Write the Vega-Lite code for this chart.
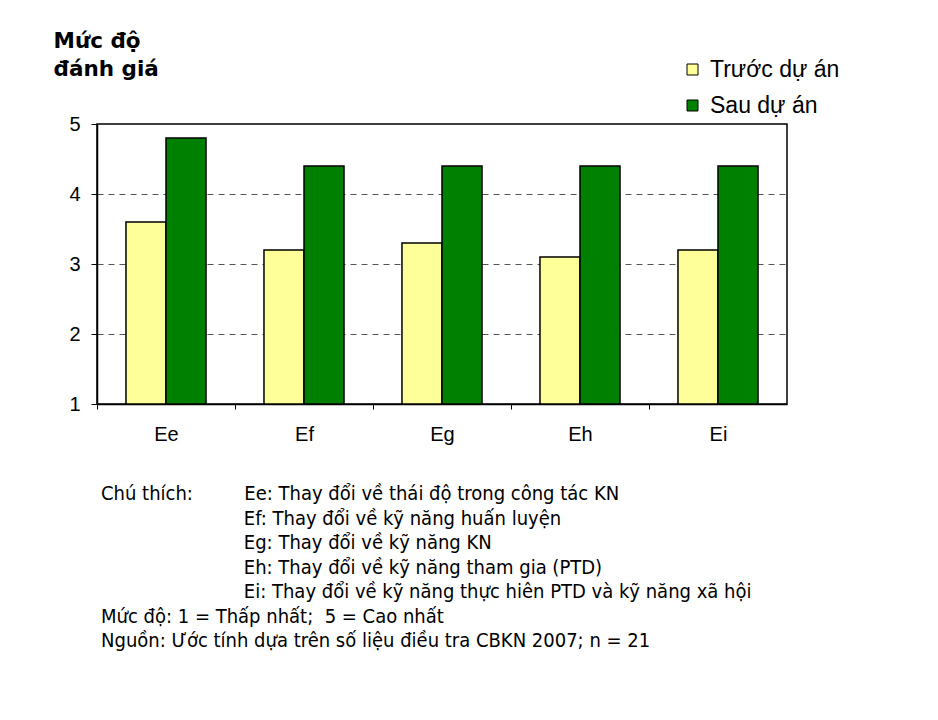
{
  "$schema": "https://vega.github.io/schema/vega-lite/v6.json",
  "width": 690,
  "height": 280,
  "autosize": {"type": "none"},
  "padding": {"left": 97, "top": 124, "right": 151, "bottom": 316},
  "background": "white",
  "data": {
    "values": [
      {"nhom": "Ee", "giai_doan": "Trước dự án", "muc_do": 3.6},
      {"nhom": "Ee", "giai_doan": "Sau dự án", "muc_do": 4.8},
      {"nhom": "Ef", "giai_doan": "Trước dự án", "muc_do": 3.2},
      {"nhom": "Ef", "giai_doan": "Sau dự án", "muc_do": 4.4},
      {"nhom": "Eg", "giai_doan": "Trước dự án", "muc_do": 3.3},
      {"nhom": "Eg", "giai_doan": "Sau dự án", "muc_do": 4.4},
      {"nhom": "Eh", "giai_doan": "Trước dự án", "muc_do": 3.1},
      {"nhom": "Eh", "giai_doan": "Sau dự án", "muc_do": 4.4},
      {"nhom": "Ei", "giai_doan": "Trước dự án", "muc_do": 3.2},
      {"nhom": "Ei", "giai_doan": "Sau dự án", "muc_do": 4.4}
    ]
  },
  "title": {
    "text": [
      "Chú thích:\u00a0\u00a0\u00a0\u00a0\u00a0\u00a0\u00a0\u00a0\u00a0Ee: Thay đổi về thái độ trong công tác KN",
      "\u200b\u00a0\u00a0\u00a0\u00a0\u00a0\u00a0\u00a0\u00a0\u00a0\u00a0\u00a0\u00a0\u00a0\u00a0\u00a0\u00a0\u00a0\u00a0\u00a0\u00a0\u00a0\u00a0\u00a0\u00a0\u00a0Ef: Thay đổi về kỹ năng huấn luyện",
      "\u200b\u00a0\u00a0\u00a0\u00a0\u00a0\u00a0\u00a0\u00a0\u00a0\u00a0\u00a0\u00a0\u00a0\u00a0\u00a0\u00a0\u00a0\u00a0\u00a0\u00a0\u00a0\u00a0\u00a0\u00a0\u00a0Eg: Thay đổi về kỹ năng KN",
      "\u200b\u00a0\u00a0\u00a0\u00a0\u00a0\u00a0\u00a0\u00a0\u00a0\u00a0\u00a0\u00a0\u00a0\u00a0\u00a0\u00a0\u00a0\u00a0\u00a0\u00a0\u00a0\u00a0\u00a0\u00a0\u00a0Eh: Thay đổi về kỹ năng tham gia (PTD)",
      "\u200b\u00a0\u00a0\u00a0\u00a0\u00a0\u00a0\u00a0\u00a0\u00a0\u00a0\u00a0\u00a0\u00a0\u00a0\u00a0\u00a0\u00a0\u00a0\u00a0\u00a0\u00a0\u00a0\u00a0\u00a0\u00a0Ei: Thay đổi về kỹ năng thực hiên PTD và kỹ năng xã hội",
      "Mức độ: 1 = Thấp nhất;\u00a0\u00a05 = Cao nhất",
      "Nguồn: Ước tính dựa trên số liệu điều tra CBKN 2007; n = 21"
    ],
    "orient": "bottom",
    "anchor": "start",
    "frame": "group",
    "offset": 40,
    "dx": 4,
    "font": "DejaVu Sans Condensed, DejaVu Sans",
    "fontSize": 20,
    "fontWeight": "normal",
    "color": "black",
    "lineHeight": 24.5,
    "baseline": "top"
  },
  "mark": {"type": "bar", "stroke": "black", "strokeWidth": 1.5},
  "encoding": {
    "x": {
      "field": "nhom",
      "type": "nominal",
      "sort": ["Ee", "Ef", "Eg", "Eh", "Ei"],
      "scale": {"paddingInner": 0.42, "paddingOuter": 0.21},
      "axis": {
        "title": null,
        "tickOffset": -69,
        "labelOffset": 69,
        "tickSize": 5,
        "tickColor": "black",
        "tickWidth": 1,
        "domainColor": "black",
        "domainWidth": 1.5,
        "labelFont": "Liberation Sans",
        "labelFontSize": 20,
        "labelColor": "black",
        "labelPadding": 15,
        "labelAngle": 0,
        "grid": false
      }
    },
    "xOffset": {
      "field": "giai_doan",
      "type": "nominal",
      "sort": ["Trước dự án", "Sau dự án"],
      "scale": {"paddingInner": 0, "paddingOuter": 0}
    },
    "y": {
      "field": "muc_do",
      "type": "quantitative",
      "scale": {"domain": [1, 5], "zero": false, "nice": false},
      "axis": {
        "values": [1, 2, 3, 4, 5],
        "format": "d",
        "title": ["Mức độ", "đánh giá"],
        "titleAngle": 0,
        "titleAlign": "left",
        "titleBaseline": "alphabetic",
        "titleX": -44,
        "titleY": -77,
        "titleFont": "DejaVu Sans",
        "titleFontWeight": "bold",
        "titleFontSize": 21.5,
        "titleLineHeight": 28,
        "titleColor": "black",
        "labelFont": "Liberation Sans",
        "labelFontSize": 20,
        "labelColor": "black",
        "labelPadding": 11,
        "tickSize": 6,
        "tickColor": "black",
        "tickWidth": 1,
        "domainColor": "black",
        "domainWidth": 1.5,
        "grid": true,
        "gridColor": "#555555",
        "gridDash": [6, 5],
        "gridWidth": 1,
        "gridOpacity": {"condition": {"test": "datum.value === 1 || datum.value === 5", "value": 0}, "value": 1}
      }
    },
    "y2": {"datum": 1},
    "color": {
      "field": "giai_doan",
      "type": "nominal",
      "sort": ["Trước dự án", "Sau dự án"],
      "scale": {"domain": ["Trước dự án", "Sau dự án"], "range": ["#FFFF99", "#008000"]},
      "legend": {
        "title": null,
        "orient": "none",
        "legendX": 584,
        "legendY": -66,
        "direction": "vertical",
        "symbolType": "square",
        "symbolSize": 121,
        "symbolStrokeColor": "black",
        "symbolStrokeWidth": 1,
        "symbolOpacity": 1,
        "labelFont": "Liberation Sans",
        "labelFontSize": 23,
        "labelColor": "black",
        "labelOffset": 6,
        "rowPadding": 12,
        "padding": 0
      }
    }
  },
  "config": {
    "view": {"stroke": "black", "strokeWidth": 1.5}
  }
}
